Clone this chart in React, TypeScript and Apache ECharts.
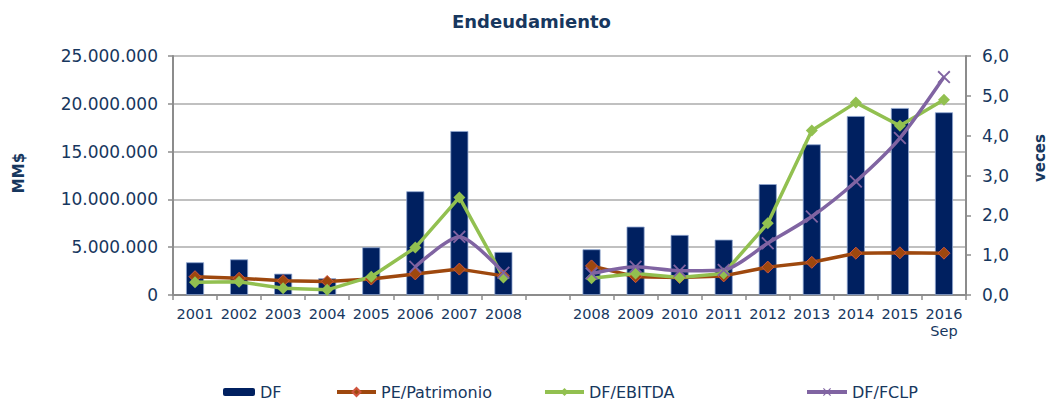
import React, { useEffect, useRef } from "react";
import * as echarts from "echarts";

const categories = ["2001", "2002", "2003", "2004", "2005", "2006", "2007", "2008", "", "2008", "2009", "2010", "2011", "2012", "2013", "2014", "2015", "2016\nSep"];
const dfValues = [3420000, 3730000, 2230000, 1750000, 4990000, 10850000, 17150000, 4500000, null, 4780000, 7150000, 6280000, 5790000, 11600000, 15760000, 18720000, 19560000, 19110000];
const pePatrimonio = [0.46, 0.42, 0.36, 0.34, 0.40, 0.53, 0.65, 0.48, null, 0.73, 0.46, 0.44, 0.48, 0.70, 0.82, 1.05, 1.06, 1.05];
const dfEbitda = [0.32, 0.33, 0.17, 0.13, 0.46, 1.19, 2.45, 0.44, null, 0.42, 0.54, 0.44, 0.54, 1.80, 4.13, 4.83, 4.25, 4.90];
const dfFclp = [null, null, null, null, null, 0.71, 1.46, 0.56, null, 0.54, 0.71, 0.61, 0.63, 1.30, 1.97, 2.85, 3.94, 5.47];

const TEXT = "#17375E";
const FONT = "DejaVu Sans";
const X_SYMBOL = "path://M0,1 L1,0 L5,4 L9,0 L10,1 L6,5 L10,9 L9,10 L5,6 L1,10 L0,9 L4,5 Z";

export default function App() {
  const ref = useRef<HTMLDivElement>(null);
  useEffect(() => {
    const chart = echarts.init(ref.current!, null, { renderer: "svg" });
    const legendBase = {
      top: 384,
      padding: 0,
      textStyle: { color: TEXT, fontSize: 16, fontFamily: FONT },
      selectedMode: false,
    };
    chart.setOption({
      animation: false,
      textStyle: { fontFamily: FONT },
      title: {
        text: "Endeudamiento",
        left: 447,
        top: 7,
        textStyle: { color: TEXT, fontSize: 18, fontWeight: "bold", fontFamily: FONT },
      },
      legend: [
        { ...legendBase, data: ["DF"], left: 223, itemWidth: 32, itemHeight: 8, itemStyle: { borderWidth: 0 } },
        { ...legendBase, data: ["PE/Patrimonio"], left: 335, itemWidth: 39, itemHeight: 10, lineStyle: { width: 4 } },
        { ...legendBase, data: ["DF/EBITDA"], left: 543, itemWidth: 39, itemHeight: 10, lineStyle: { width: 4 } },
        { ...legendBase, data: ["DF/FCLP"], left: 805, itemWidth: 40, itemHeight: 10, lineStyle: { width: 4 } },
      ],
      grid: { left: 173, right: 82, top: 56, bottom: 109, containLabel: false },
      xAxis: {
        type: "category",
        data: categories,
        boundaryGap: true,
        axisLine: { lineStyle: { color: "#8C8C8C", width: 2 } },
        axisTick: { show: true, length: 5, alignWithLabel: false, interval: 0, lineStyle: { color: "#8C8C8C", width: 1.5 } },
        axisLabel: { color: TEXT, fontSize: 14.5, fontFamily: FONT, margin: 10, interval: 0, lineHeight: 17 },
      },
      yAxis: [
        {
          type: "value",
          min: 0,
          max: 25000000,
          interval: 5000000,
          axisLine: { show: true, lineStyle: { color: "#8C8C8C", width: 2 } },
          axisTick: { show: true, length: 5, lineStyle: { color: "#8C8C8C", width: 1.5 } },
          splitLine: { show: true, lineStyle: { color: "#ABABAB", width: 1.5 } },
          axisLabel: {
            color: TEXT,
            fontSize: 17,
            fontFamily: FONT,
            margin: 15,
            formatter: (v: number) => String(Math.round(v)).replace(/\B(?=(\d{3})+(?!\d))/g, "."),
          },
        },
        {
          type: "value",
          min: 0,
          max: 6,
          interval: 1,
          position: "right",
          axisLine: { show: true, lineStyle: { color: "#8C8C8C", width: 2 } },
          axisTick: { show: true, length: 5, lineStyle: { color: "#8C8C8C", width: 1.5 } },
          splitLine: { show: false },
          axisLabel: {
            color: TEXT,
            fontSize: 17,
            fontFamily: FONT,
            margin: 16,
            formatter: (v: number) => v.toFixed(1).replace(".", ","),
          },
        },
      ],
      graphic: [
        {
          type: "text",
          x: 19,
          y: 173,
          rotation: Math.PI / 2,
          style: { text: "MM$", font: `bold 15px "${FONT}"`, fill: TEXT, align: "center", verticalAlign: "middle" },
        },
        {
          type: "text",
          x: 1040,
          y: 158,
          rotation: Math.PI / 2,
          style: { text: "veces", font: `bold 15px "${FONT}"`, fill: TEXT, align: "center", verticalAlign: "middle" },
        },
      ],
      series: [
        {
          name: "DF",
          type: "bar",
          yAxisIndex: 0,
          data: dfValues,
          barWidth: 18,
          itemStyle: { color: "#002060", borderColor: "#8FA6CF", borderWidth: 0.8 },
        },
        {
          name: "PE/Patrimonio",
          type: "line",
          yAxisIndex: 1,
          data: pePatrimonio,
          connectNulls: false,
          symbol: "diamond",
          symbolSize: 12,
          lineStyle: { color: "#9E480E", width: 3.5 },
          itemStyle: { color: "#9E480E", borderColor: "#D0553E", borderWidth: 1 },
        },
        {
          name: "DF/EBITDA",
          type: "line",
          yAxisIndex: 1,
          data: dfEbitda,
          connectNulls: false,
          symbol: "diamond",
          symbolSize: 12,
          lineStyle: { color: "#92C050", width: 3.5 },
          itemStyle: { color: "#92C050", borderColor: "#92C050", borderWidth: 0 },
        },
        {
          name: "DF/FCLP",
          type: "line",
          yAxisIndex: 1,
          data: dfFclp,
          connectNulls: false,
          smooth: 0.25,
          symbol: X_SYMBOL,
          symbolSize: 13,
          lineStyle: { color: "#8064A2", width: 3.5 },
          itemStyle: { color: "#8064A2" },
        },
      ],
    });
    return () => chart.dispose();
  }, []);
  return <div ref={ref} style={{ position: "absolute", left: 0, top: 0, width: 1048, height: 404 }} />;
}
